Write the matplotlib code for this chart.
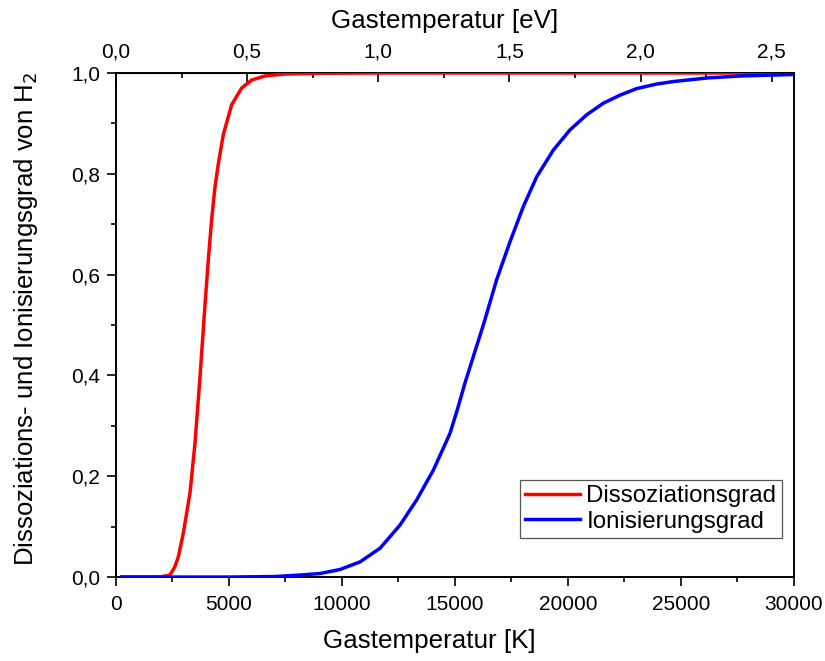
import matplotlib
matplotlib.use("Agg")
import matplotlib.pyplot as plt
from matplotlib.ticker import MultipleLocator, FixedLocator, FuncFormatter

plt.rcParams['font.family'] = ['Liberation Sans', 'DejaVu Sans']

# Dissociation degree (temperature in K)
diss_T = [250, 1500, 2000, 2389, 2600, 2757, 2979, 3274, 3496, 3717, 3938, 4086, 4233,
          4381, 4528, 4749, 5118, 5560, 6002, 6593, 7500, 9000, 12000, 16000, 20000,
          25000, 30000]
diss_y = [0.0, 0.0, 0.0005, 0.004, 0.020, 0.040, 0.087, 0.167, 0.266, 0.397, 0.540, 0.630,
          0.710, 0.774, 0.820, 0.878, 0.937, 0.970, 0.986, 0.994, 0.998, 0.9995, 1.0, 1.0,
          1.0, 1.0, 1.0]

# Ionisation degree (temperature in K)
ion_T = [250, 5000, 7000, 8142, 9027, 9912, 10796, 11681, 12566, 13304, 14041, 14779,
         15110, 15442, 15900, 16254, 16844, 17434, 18024, 18614, 19351, 20088, 20826,
         21563, 22301, 23038, 23923, 24660, 26136, 27611, 29970]
ion_y = [0.0, 0.0, 0.001, 0.004, 0.007, 0.015, 0.030, 0.057, 0.103, 0.153, 0.212, 0.285,
         0.333, 0.385, 0.450, 0.500, 0.590, 0.665, 0.735, 0.794, 0.847, 0.887, 0.917,
         0.940, 0.956, 0.969, 0.978, 0.983, 0.990, 0.994, 0.997]

ev_ticks = [0.0, 0.5, 1.0, 1.5, 2.0, 2.5]
ev_minor = [0.25, 0.75, 1.25, 1.75, 2.25]

KB_EV = 8.617333e-5  # eV per K

fig = plt.figure(figsize=(8.25, 6.61), dpi=100)
ax = fig.add_axes([0.1406, 0.127, 0.8218, 0.7626])

ax.plot(diss_T, diss_y, color='#ff0000', lw=2.5, label='Dissoziationsgrad', zorder=3,
        solid_joinstyle='round')
ax.plot(ion_T, ion_y, color='#0000ff', lw=2.5, label='Ionisierungsgrad', zorder=3,
        solid_joinstyle='round')

ax.set_xlim(0, 30000)
ax.set_ylim(0, 1.0)

comma = lambda fmt: FuncFormatter(lambda v, p: (fmt % v).replace('.', ','))

ax.xaxis.set_major_locator(MultipleLocator(5000))
ax.xaxis.set_minor_locator(MultipleLocator(2500))
ax.yaxis.set_major_locator(MultipleLocator(0.2))
ax.yaxis.set_minor_locator(MultipleLocator(0.1))
ax.yaxis.set_major_formatter(comma('%.1f'))
ax.xaxis.set_major_formatter(FuncFormatter(lambda v, p: '%d' % v))

ax.tick_params(axis='both', which='major', direction='out', length=6.5, width=1.2,
               labelsize=15, top=False, right=False)
ax.tick_params(axis='both', which='minor', direction='out', length=3.6, width=1.2,
               top=False, right=False)
ax.tick_params(axis='x', pad=6.5)
ax.tick_params(axis='y', pad=5)

for s in ax.spines.values():
    s.set_linewidth(1.4)

sec = ax.secondary_xaxis('top', functions=(lambda t: t * KB_EV, lambda e: e / KB_EV))
sec.xaxis.set_major_locator(FixedLocator(ev_ticks))
sec.xaxis.set_minor_locator(FixedLocator(ev_minor))
sec.xaxis.set_major_formatter(comma('%.1f'))
sec.tick_params(axis='x', which='major', direction='in', length=6.5, width=1.2,
                labelsize=15, pad=8)
sec.tick_params(axis='x', which='minor', direction='in', length=3.6, width=1.2)
sec.set_xlabel('Gastemperatur [eV]', fontsize=18.7, labelpad=11)
sec.xaxis.label.set_x(0.485)

ax.set_xlabel('Gastemperatur [K]', fontsize=18.7, labelpad=11)
ax.xaxis.label.set_x(0.462)
ax.set_ylabel('Dissoziations- und Ionisierungsgrad von H$_2$', fontsize=18.5, labelpad=22)
ax.yaxis.label.set_y(0.512)

leg = ax.legend(loc='lower right', bbox_to_anchor=(0.982, 0.0774), borderaxespad=0,
                fontsize=17.4, frameon=True, fancybox=False, edgecolor='#555555',
                framealpha=1, handlelength=2.3, handletextpad=0.25, borderpad=0.22,
                labelspacing=0.15)
leg.get_frame().set_linewidth(0.9)

fig.savefig('out.png', dpi=100)
